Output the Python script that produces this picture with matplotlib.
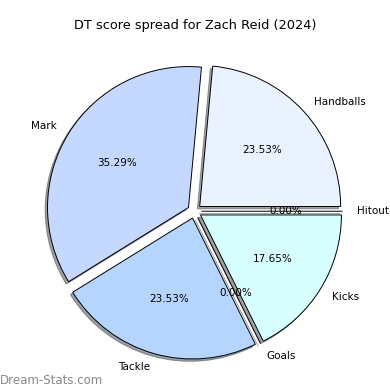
import matplotlib
matplotlib.use("Agg")
import matplotlib.pyplot as plt

# DT score breakdown
labels = ["Handballs", "Mark", "Tackle", "Goals", "Kicks", "Hitout"]
points = [4, 6, 4, 0, 3, 0]
colors = ["#eaf1ff", "#c5d8ff", "#b5d5ff", "#cce0ff", "#d8ffff", "#e0e8ff"]
explode = [0.05, 0.05, 0.05, 0.05, 0.05, 0.05]

fig, ax = plt.subplots(figsize=(3.9, 3.9), dpi=100)
ax.pie(points, labels=labels, colors=colors, explode=explode,
       autopct="%1.2f%%", shadow={"ox": -0.012, "oy": -0.012}, startangle=0,
       wedgeprops={"edgecolor": "black", "linewidth": 0.7},
       textprops={"fontsize": 7.5})
ax.axis("equal")
fig.suptitle("DT score spread for Zach Reid (2024)", fontsize=9.3, y=0.95)

fig.text(0.0, 0.015, "Dream-Stats.com", fontsize=8.5, color="#888888")
fig.subplots_adjust(left=0.087, right=0.913, top=0.868, bottom=0.042)
fig.savefig("out.png", dpi=100)
